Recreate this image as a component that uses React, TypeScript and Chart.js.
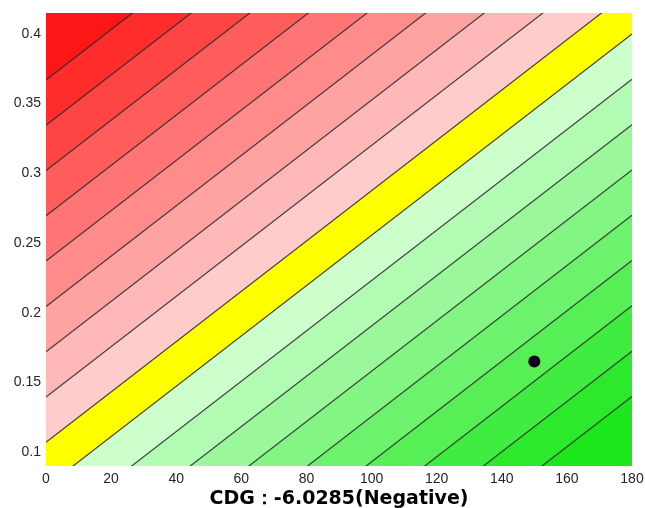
import React, { useEffect, useRef } from "react";
import { Chart, registerables } from "chart.js";

Chart.register(...registerables);

// Axis ranges and ticks
const xRange = [0, 180];
const yRange = [0.09, 0.415];
const xTicks = [0, 20, 40, 60, 80, 100, 120, 140, 160, 180];
const yTicks = [0.1, 0.15, 0.2, 0.25, 0.3, 0.35, 0.4];

// Contour lines: y value at x = 0 and at x = 180 (straight parallel lines)
const contourX = [0, 180];
const levelAtStart = [0.367, 0.3345, 0.302, 0.2695, 0.237, 0.2045, 0.172, 0.1395, 0.107, 0.075, 0.0425, 0.01, -0.0225, -0.055, -0.0875, -0.12, -0.1525, -0.185];
const levelAtEnd = [0.692, 0.6594, 0.6269, 0.5944, 0.5619, 0.5294, 0.4969, 0.4644, 0.4319, 0.3999, 0.3674, 0.3349, 0.3024, 0.2699, 0.2374, 0.2049, 0.1724, 0.1399];

// Band colours, from top-left region to bottom-right region
const bandColors = [
  "rgb(252,22,22)",
  "rgb(255,44,44)",
  "rgb(255,68,68)",
  "rgb(255,92,92)",
  "rgb(255,116,116)",
  "rgb(255,139,139)",
  "rgb(255,162,162)",
  "rgb(255,184,184)",
  "rgb(255,204,204)",
  "rgb(255,255,0)",
  "rgb(204,255,204)",
  "rgb(178,251,178)",
  "rgb(154,248,154)",
  "rgb(130,245,130)",
  "rgb(108,242,108)",
  "rgb(86,239,86)",
  "rgb(64,236,64)",
  "rgb(44,233,44)",
  "rgb(28,231,28)",
];

// Marker point
const pointX = [150];
const pointY = [0.165];

const titleText = "CDG：-6.0285(Negative)";

export default function App() {
  const canvasRef = useRef<HTMLCanvasElement | null>(null);

  useEffect(() => {
    const canvas = canvasRef.current;
    if (!canvas) return;

    const lineColor = "rgba(35,35,35,0.85)";
    const datasets: any[] = [];
    levelAtStart.forEach((c, i) => {
      datasets.push({
        type: "line",
        data: [
          { x: contourX[0], y: c },
          { x: contourX[1], y: levelAtEnd[i] },
        ],
        borderColor: lineColor,
        borderWidth: 1.2,
        pointRadius: 0,
        fill: i === 0 ? "end" : "-1",
        backgroundColor: bandColors[i],
        tension: 0,
      });
    });
    const last = levelAtStart.length - 1;
    datasets.push({
      type: "line",
      data: [
        { x: contourX[0], y: levelAtStart[last] },
        { x: contourX[1], y: levelAtEnd[last] },
      ],
      borderWidth: 0,
      borderColor: "rgba(0,0,0,0)",
      pointRadius: 0,
      fill: "start",
      backgroundColor: bandColors[bandColors.length - 1],
    });
    datasets.push({
      type: "scatter",
      data: pointX.map((x, i) => ({ x, y: pointY[i] })),
      pointRadius: 6,
      pointBackgroundColor: "#000018",
      pointBorderColor: "#000018",
      backgroundColor: "#000018",
      borderWidth: 0,
      fill: false,
      order: -1,
    });

    const tickFont = { family: "'Liberation Sans', Arial, sans-serif", size: 14 };

    const chart = new Chart(canvas, {
      type: "scatter",
      data: { datasets },
      options: {
        animation: false,
        responsive: true,
        maintainAspectRatio: false,
        layout: { padding: { top: 13, right: 13, left: 0, bottom: 0 } },
        plugins: {
          legend: { display: false },
          tooltip: { enabled: false },
          filler: { drawTime: "beforeDatasetsDraw" },
        } as any,
        scales: {
          x: {
            type: "linear",
            min: xRange[0],
            max: xRange[1],
            grid: { display: false, drawTicks: false },
            border: { display: false },
            ticks: {
              color: "#262626",
              font: tickFont,
              padding: 5,
              maxRotation: 0,
              callback: (v: any) => String(v),
            },
            afterBuildTicks: (s: any) => {
              s.ticks = xTicks.map((v) => ({ value: v }));
            },
            afterFit: (s: any) => {
              s.height = 42;
              s.paddingRight = 0;
              s.paddingLeft = 0;
            },
            title: {
              display: true,
              text: titleText,
              color: "#000",
              font: { family: "'DejaVu Sans', sans-serif", size: 19, weight: "bold", lineHeight: 0.9 },
              padding: { top: 0, bottom: 0 },
            },
          },
          y: {
            type: "linear",
            min: yRange[0],
            max: yRange[1],
            grid: { display: false, drawTicks: false },
            border: { display: false },
            ticks: {
              color: "#262626",
              font: tickFont,
              padding: 5,
              callback: (v: any) => String(v),
            },
            afterBuildTicks: (s: any) => {
              s.ticks = yTicks.map((v) => ({ value: v }));
            },
            afterFit: (s: any) => {
              s.width = 46;
              s.paddingTop = 0;
              s.paddingBottom = 0;
            },
          },
        },
      } as any,
    });

    return () => chart.destroy();
  }, []);

  return (
    <div style={{ position: "fixed", left: 0, top: 0, width: 645, height: 508, background: "#fff" }}>
      <canvas ref={canvasRef} />
    </div>
  );
}
